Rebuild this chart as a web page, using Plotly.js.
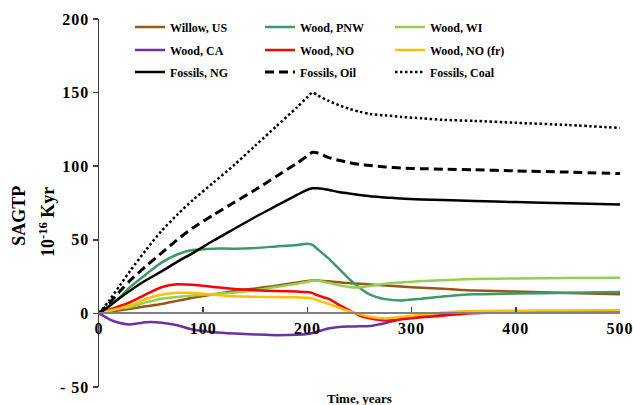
<!DOCTYPE html>
<html>
<head>
<meta charset="utf-8">
<script src="https://cdn.plot.ly/plotly-3.0.1.min.js"></script>
<style>
html, body { margin: 0; padding: 0; background: #fff; }
#chart { width: 633px; height: 405px; }
.xtick text, .ytick text { letter-spacing: 1px; }
</style>
</head>
<body>
<div id="chart"></div>
<script>
// Time grid (years)
const years = [0,10,20,30,45,60,75,90,110,130,150,170,190,200,205,210,220,230,240,250,260,275,290,310,330,360,400,450,500];

// SAGTP values (10^-16 K yr)
const willowUS = [0,1,2.1,3.2,4.8,6.4,8.5,10.6,13,15.3,17,18.8,21,22,22.5,22.3,21.8,21.2,20.6,20.2,19.7,19,18.2,17.4,16.8,15.6,14.8,13.9,13];
const woodPNW  = [0,5,11,18,26.5,34.5,40,43,44,44,44.5,45.5,46.5,47.3,46.5,43.5,37.5,30.5,23.5,17.5,12.8,9.7,8.8,10,11.5,13,13.5,14,14.5];
const woodWI   = [0,1.8,3.2,4.3,7.5,10,11.2,12.2,13.2,14.2,15.8,18,20.2,21.5,22.4,22.2,20.8,19.2,18,17.7,18.6,20.2,21,22,22.6,23.3,23.7,24,24.2];
const woodCA   = [0,-4,-6.5,-7.5,-6,-6.3,-8,-11,-12.8,-13.7,-14.3,-14.8,-14.5,-14,-13.3,-12.3,-10.3,-9.2,-8.9,-8.8,-8.6,-6.5,-3.8,-1.5,-0.4,0.3,0.8,1.5,2.2];
const woodNO   = [0,2.5,5,7.7,13,17.8,19.8,19.5,18,16.5,15.7,15.2,14.8,14.5,13.8,12.2,10,6,2.2,-1.4,-3.3,-4.8,-4,-2.7,-1.6,0.3,0.9,1.1,1.3];
const woodNOfr = [0,1.8,3.6,5.4,9.8,12.6,14,13.9,12.8,11.6,11.3,11.1,10.9,10.7,10.2,8.8,6.5,4,1.5,-0.5,-2.3,-3.4,-2.3,-0.8,0.5,1.6,1.8,2,2.2];
const fossilNG   = [0,5,10.5,15.6,22.5,28.5,35,41,49.5,57.5,65.5,73,80.5,84,85,85,84,82.5,81.5,80.5,79.6,78.8,78,77.4,77,76.4,75.6,74.8,74];
const fossilOil  = [0,7,15,22.4,32,41,50,58,67,75.5,84,93,102,107,109.5,109,106,104,102.5,101.3,100.5,99.5,98.8,98.3,98,97.6,96.8,96,95];
const fossilCoal = [0,9,19,29,43,56,67,77,89,101,114,127,140,147,150,148,144.5,141.5,139,137,135.5,134.5,133.5,132.5,131.5,130.8,129.5,128,126];

// Tick labels
const xTickVals = [0,100,200,300,400,500];
const yTickVals = [-50,0,50,100,150,200];
const yTickText = ['- 50','0','50','100','150','200'];

const series = [
  {name:'Willow, US',   y: willowUS,  color:'#9C5514', dash:'solid', width:2.5, legend:'legend'},
  {name:'Wood, PNW',    y: woodPNW,   color:'#3A9B68', dash:'solid', width:2.5, legend:'legend'},
  {name:'Wood, WI',     y: woodWI,    color:'#92D050', dash:'solid', width:2.5, legend:'legend'},
  {name:'Wood, CA',     y: woodCA,    color:'#7030A0', dash:'solid', width:2.5, legend:'legend2'},
  {name:'Wood, NO',     y: woodNO,    color:'#FF0000', dash:'solid', width:2.5, legend:'legend2'},
  {name:'Wood, NO (fr)',y: woodNOfr,  color:'#FFC000', dash:'solid', width:2.5, legend:'legend2'},
  {name:'Fossils, NG',  y: fossilNG,  color:'#000000', dash:'solid', width:2.5, legend:'legend3'},
  {name:'Fossils, Oil', y: fossilOil, color:'#000000', dash:'9px,5px', width:3, legend:'legend3'},
  {name:'Fossils, Coal',y: fossilCoal,color:'#000000', dash:'2.5px,2.5px', width:2.5, legend:'legend3'}
];

const traces = series.map(s => ({
  type:'scatter', mode:'lines', x: years, y: s.y, name: s.name, legend: s.legend,
  line:{color:s.color, width:s.width, dash:s.dash, shape:'spline', smoothing:0.7},
  hoverinfo:'skip'
}));

const serif = 'Liberation Serif';
const legendBase = (y) => ({
  orientation:'h', x:0.0595, xanchor:'left', y:y, yanchor:'middle',
  bgcolor:'rgba(0,0,0,0)', borderwidth:0,
  font:{family:serif, size:12, color:'#000', weight:'bold'},
  entrywidth:85, entrywidthmode:'pixels', itemwidth:30, tracegroupgap:0
});

const layout = {
  width:633, height:405,
  margin:{l:99, r:13, t:19, b:18, pad:0},
  paper_bgcolor:'#fff', plot_bgcolor:'#fff',
  font:{family:serif, color:'#000'},
  showlegend:true,
  legend: legendBase(0.978),
  legend2: legendBase(0.916),
  legend3: legendBase(0.856),
  xaxis:{
    range:[0,500], tickvals:xTickVals, ticktext:xTickVals.map(String),
    anchor:'free', position:0.2, ticklabeloverflow:'allow',
    showline:true, linecolor:'#808080', linewidth:2,
    ticks:'inside', ticklen:5, tickwidth:1.5, tickcolor:'#404040',
    showgrid:false, zeroline:false,
    tickfont:{family:serif, size:16, color:'#000', weight:'bold'}
  },
  yaxis:{
    range:[-50,200], tickvals:yTickVals, ticktext:yTickText,
    domain:[0,1], ticklabeloverflow:'allow',
    showline:true, linecolor:'#404040', linewidth:1.5,
    ticks:'outside', ticklen:5, tickwidth:1.5, tickcolor:'#404040',
    showgrid:false, zeroline:false,
    tickfont:{family:serif, size:16, color:'#000', weight:'bold'}
  },
  annotations:[
    {text:'Time, years', xref:'paper', yref:'paper', x:0.5, y:-0.03, xanchor:'center', yanchor:'middle',
     showarrow:false, font:{family:serif, size:13, color:'#000', weight:'bold'}},
    {text:'SAGTP', xref:'paper', yref:'paper', x:-0.155, y:0.466, xanchor:'center', yanchor:'middle',
     textangle:-90, showarrow:false, font:{family:serif, size:18, color:'#000', weight:'bold'}},
    {text:'10<sup>-16</sup> Kyr', xref:'paper', yref:'paper', x:-0.10, y:0.448, xanchor:'center', yanchor:'middle',
     textangle:-90, showarrow:false, font:{family:serif, size:18, color:'#000', weight:'bold'}}
  ]
};

Plotly.newPlot('chart', traces, layout, {staticPlot:true, displayModeBar:false});
</script>
</body>
</html>
